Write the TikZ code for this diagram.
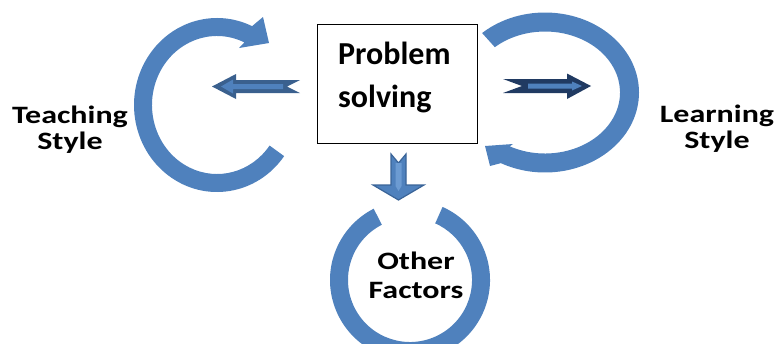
\documentclass[tikz,border=0pt]{standalone}
\usepackage{fontspec}
\setmainfont{Carlito}
\newfontfamily\widefont{Carlito}[FakeStretch=1.28]
\usetikzlibrary{calc}
\definecolor{ringblue}{RGB}{79,129,189}
\definecolor{leftdark}{RGB}{58,96,142}
\definecolor{rightdark}{RGB}{32,58,98}
\definecolor{downedge}{RGB}{58,100,152}
\definecolor{stripe}{RGB}{108,155,210}
\begin{document}
\begin{tikzpicture}[x=1pt,y=1pt,yscale=-1,
  ring/.style={fill=ringblue},
  lbl/.style={font=\widefont\bfseries\fontsize{25}{26}\selectfont, align=center, inner sep=0pt, text=black}]
\useasboundingbox (0,0) rectangle (778,343);
\clip (0,0) rectangle (778,343);
% centres
\coordinate (Lc) at (217,105);
\coordinate (Rc) at (545,92.5);
\coordinate (Bc) at (410,280);
% left circular arrow
\fill[ring] ($(Lc)+(36:83 and 87)$) arc[start angle=36,end angle=295,x radius=83,y radius=87]
  -- (263,17) -- (269,43) -- (239,48)
  -- ($(Lc)+(295:65 and 69)$) arc[start angle=295,end angle=36,x radius=65,y radius=69] -- cycle;
% right circular arrow
\fill[ring] ($(Rc)+(228:94 and 80)$) arc[start angle=228,end angle=478,x radius=94,y radius=80]
  -- (490,166) -- (485,146) -- (513,144)
  -- ($(Rc)+(478:75 and 61)$) arc[start angle=478,end angle=228,x radius=75,y radius=61] -- cycle;
% bottom ring
\fill[ring] ($(Bc)+(294:80)$) arc[start angle=294,end angle=603,radius=80]
  -- ($(Bc)+(603:62)$) arc[start angle=603,end angle=294,radius=62] -- cycle;
% box
\node[draw, line width=1.5pt, minimum width=160pt, minimum height=119pt, inner sep=0pt] (box) at (397.5,84) {};
\node[font=\bfseries\fontsize{32}{43}\selectfont, align=left, inner sep=0pt, anchor=base west] (ps) at (338,107) {Problem\\solving};
% left block arrow
\fill[leftdark] (212,86.5) -- (236,74) -- (236,80) -- (300,80) -- (287,86.5) -- (300,93) -- (236,93) -- (236,99) -- cycle;
\fill[ringblue] (221,86.5) -- (233,79.5) -- (233,84) -- (283,84) -- (283,89) -- (233,89) -- (233,93.5) -- cycle;
% right block arrow
\fill[rightdark] (503,79) -- (567,79) -- (567,73.5) -- (591,86) -- (567,99) -- (567,93) -- (503,93) -- (522,86) -- cycle;
\fill[ringblue] (528,83.5) -- (572,83.5) -- (572,81.5) -- (582,86) -- (572,90.5) -- (572,88.5) -- (528,88.5) -- cycle;
% down block arrow
\filldraw[fill=ringblue, draw=downedge, line width=1.2pt, line join=miter] (391,154) -- (398.5,163) -- (406,154) -- (406,185) -- (424,185) -- (398.5,200) -- (373,185) -- (391,185) -- cycle;
\fill[stripe] (395.5,163) -- (401.5,163) -- (401.5,186) -- (398.5,191) -- (395.5,186) -- cycle;
% labels
\node[lbl, anchor=base] (teach) at (70,149) {Teaching\\Style};
\node[lbl, anchor=base] (learn) at (717,148) {Learning\\Style};
\node[lbl, anchor=base, font=\widefont\bfseries\fontsize{25}{29}\selectfont] (other) at (416,298) {Other\\Factors};
\end{tikzpicture}
\end{document}
